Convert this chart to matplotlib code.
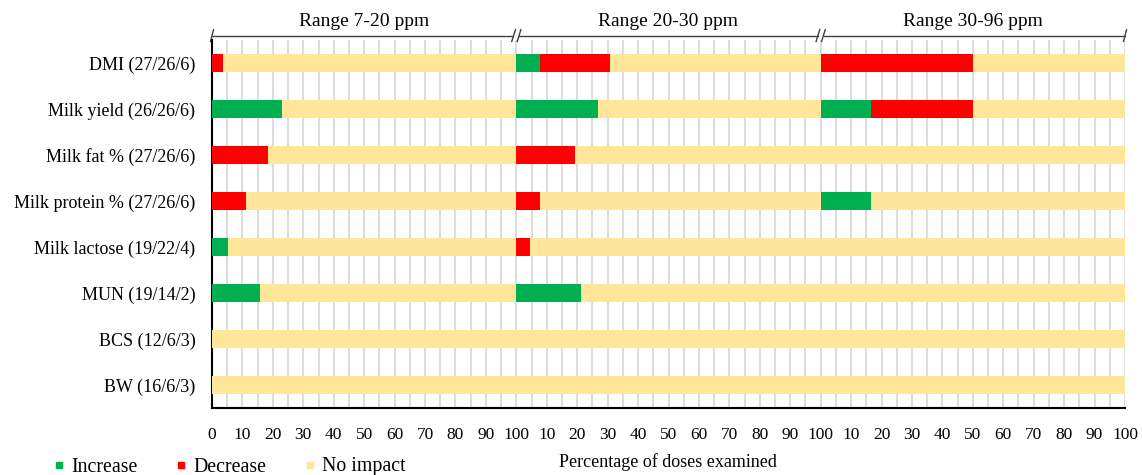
import numpy as np
import matplotlib
matplotlib.use('Agg')
import matplotlib.pyplot as plt
from matplotlib.lines import Line2D

plt.rcParams['font.family'] = ['Liberation Serif', 'DejaVu Serif']

categories = ['DMI (27/26/6)', 'Milk yield (26/26/6)', 'Milk fat % (27/26/6)',
              'Milk protein % (27/26/6)', 'Milk lactose (19/22/4)', 'MUN (19/14/2)',
              'BCS (12/6/3)', 'BW (16/6/3)']
ranges = ['Range 7-20 ppm', 'Range 20-30 ppm', 'Range 30-96 ppm']

# percent of doses per range
increase_7_20 = [0, 23.1, 0, 0, 5.3, 15.8, 0, 0]
decrease_7_20 = [3.7, 0, 18.5, 11.1, 0, 0, 0, 0]
increase_20_30 = [7.7, 26.9, 0, 0, 0, 21.4, 0, 0]
decrease_20_30 = [23.1, 0, 19.2, 7.7, 4.5, 0, 0, 0]
increase_30_96 = [0, 16.7, 0, 16.7, 0, 0, 0, 0]
decrease_30_96 = [50, 33.3, 0, 0, 0, 0, 0, 0]

tick_pos = list(range(0, 301, 10))
tick_labels = ['0'] + [str(v) for v in range(10, 101, 10)] * 3

green = '#00b050'
red = '#ff0000'
yellow = '#ffe699'

increases = [increase_7_20, increase_20_30, increase_30_96]
decreases = [decrease_7_20, decrease_20_30, decrease_30_96]

fig = plt.figure(figsize=(11.42, 4.75), dpi=100)
ax = fig.add_axes([212/1142, 1-408/475, (1125-212)/1142, 368/475])

y = np.arange(len(categories))
h = 0.41
for i in range(3):
    off = i * 100
    inc = np.array(increases[i])
    dec = np.array(decreases[i])
    none = 100 - inc - dec
    ax.barh(y, inc, left=off, height=h, color=green, lw=0, zorder=3)
    ax.barh(y, dec, left=off + inc, height=h, color=red, lw=0, zorder=3)
    ax.barh(y, none, left=off + inc + dec, height=h, color=yellow, lw=0, zorder=3)

ax.set_xlim(0, 300)
ax.set_ylim(7.5, -0.5)
ax.set_yticks(y)
ax.set_yticklabels(categories, fontsize=13)
ax.set_xticks(tick_pos)
ax.set_xticklabels(tick_labels, fontsize=12.5)
ax.set_xticks(np.arange(0, 301, 5), minor=True)
ax.tick_params(axis='both', which='both', length=0)
ax.tick_params(axis='x', pad=14)
ax.tick_params(axis='y', pad=12)
ax.grid(axis='x', which='both', color='#d9d9d9', lw=1.3, zorder=0)
ax.set_axisbelow(True)
for s in ['top', 'right']:
    ax.spines[s].set_visible(False)
ax.spines['left'].set_linewidth(1.5)
ax.spines['bottom'].set_linewidth(1.5)

# range brackets above the panels
tr = ax.get_xaxis_transform()
yb = 1.012
ax.plot([0, 99], [yb, yb], color='#404040', lw=1, transform=tr, clip_on=False)
ax.plot([101, 199], [yb, yb], color='#404040', lw=1, transform=tr, clip_on=False)
ax.plot([201, 300], [yb, yb], color='#404040', lw=1, transform=tr, clip_on=False)
for x0 in [0, 300]:
    ax.plot([x0 - 0.5, x0 + 0.5], [yb - 0.016, yb + 0.016], color='#404040', lw=1,
            transform=tr, clip_on=False)
for x0 in [100, 200]:
    for dx in [-0.9, 0.9]:
        ax.plot([x0 + dx - 0.6, x0 + dx + 0.6], [yb - 0.016, yb + 0.016], color='#404040',
                lw=1, transform=tr, clip_on=False)
for i, r in enumerate(ranges):
    ax.text(i * 100 + 50, 1.05, r, transform=tr, ha='center', va='center', fontsize=14)

fig.text(668/1142, 1-462/475, 'Percentage of doses examined', ha='center', va='center',
         fontsize=13)

handles = [Line2D([], [], marker='s', ls='', color=c, markersize=5) for c in [green, red, yellow]]
fig.legend(handles, ['Increase', 'Decrease', 'No impact'], loc='center left',
           bbox_to_anchor=(0.03, 1-467/475), ncol=3, frameon=False, fontsize=14.3,
           handletextpad=0.25, columnspacing=1.85, handlelength=0.7)

fig.savefig('out.png', dpi=100)
